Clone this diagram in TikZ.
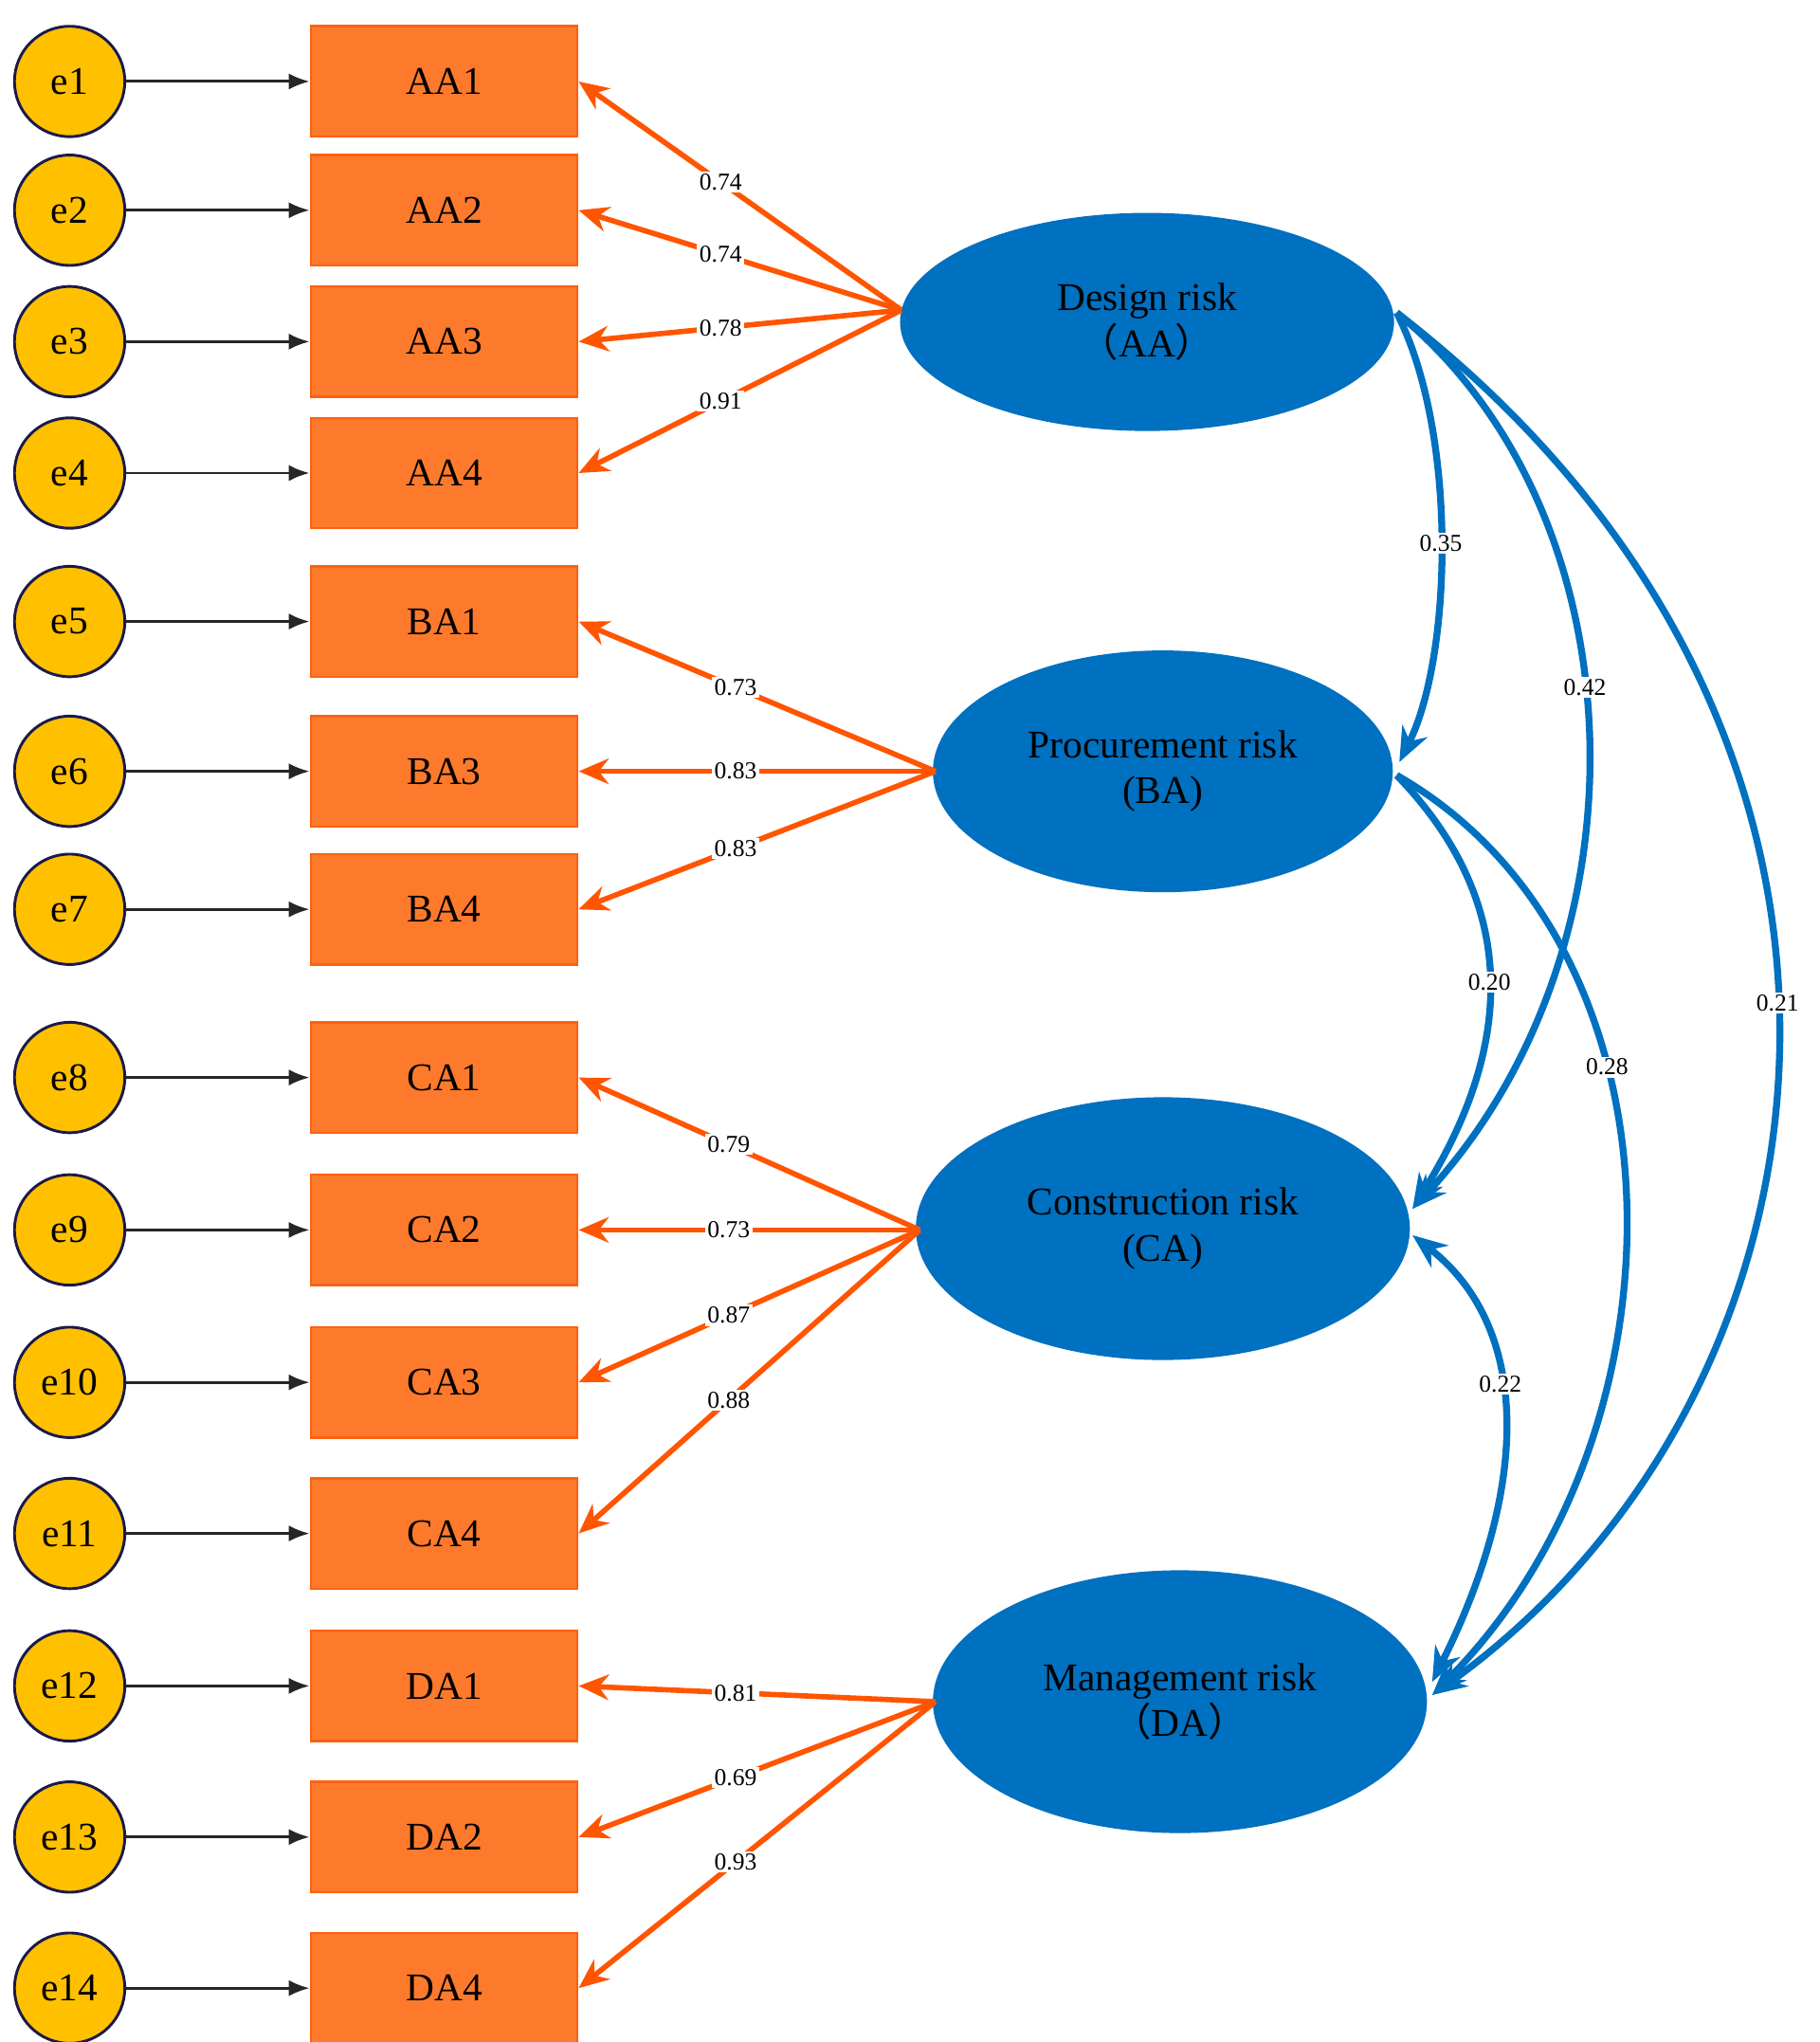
\documentclass[tikz,border=0pt]{standalone}
\usepackage{fontspec}
\setmainfont{Liberation Serif}
\newfontfamily\cjk{Noto Sans CJK SC}
\usetikzlibrary{arrows.meta,shapes.geometric}
\definecolor{eyel}{HTML}{FFC000}
\definecolor{enav}{HTML}{1A1A4A}
\definecolor{boxf}{HTML}{FD7A2C}
\definecolor{boxd}{HTML}{FF6010}
\definecolor{arro}{HTML}{FF5500}
\definecolor{blu}{HTML}{0070C0}
\begin{document}
\begin{tikzpicture}[x=0.02cm,y=-0.02cm,
  err/.style={circle,draw=enav,fill=eyel,line width=1.2pt,minimum size=84*0.02cm,inner sep=0pt,font=\fontsize{17}{17}\selectfont},
  ind/.style={rectangle,draw=boxd,fill=boxf,line width=1pt,minimum width=203*0.02cm,minimum height=84*0.02cm,font=\fontsize{17}{17}\selectfont},
  lat/.style={ellipse,fill=blu,inner sep=0pt,font=\fontsize{17}{20}\selectfont,align=center},
  earr/.style={-{Latex[length=9pt,width=7pt]},line width=1.2pt,black!85},
  load/.style={-{Stealth[length=13pt,width=11pt]},line width=2.3pt,arro},
  cov/.style={-{Stealth[length=15pt,width=12pt]},line width=3pt,blu},
  lab/.style={fill=white,inner sep=1pt,font=\fontsize{10.5}{11}\selectfont,text=black}]
\useasboundingbox (0,0) rectangle (1385,1554);
% latent
\node[lat,minimum width=376*0.02cm,minimum height=166*0.02cm] (AA) at (873,245) {Design risk\\{\cjk （}AA{\cjk ）}};
\node[lat,minimum width=350*0.02cm,minimum height=184*0.02cm] (BA) at (885,587) {Procurement risk\\(BA)};
\node[lat,minimum width=376*0.02cm,minimum height=200*0.02cm] (CA) at (885,935) {Construction risk\\(CA)};
\node[lat,minimum width=376*0.02cm,minimum height=200*0.02cm] (DA) at (898,1295) {Management risk\\{\cjk （}DA{\cjk ）}};
\coordinate (AAl) at (686,236);
\coordinate (BAl) at (712,587);
\coordinate (CAl) at (700,936);
\coordinate (DAl) at (712,1295);
% indicators
\foreach \n/\t/\y/\l/\s in {1/AA1/62/0.74/AAl,2/AA2/160/0.74/AAl,3/AA3/260/0.78/AAl,4/AA4/360/0.91/AAl,
  5/BA1/473/0.73/BAl,6/BA3/587/0.83/BAl,7/BA4/692/0.83/BAl,
  8/CA1/820/0.79/CAl,9/CA2/936/0.73/CAl,10/CA3/1052/0.87/CAl,11/CA4/1167/0.88/CAl,
  12/DA1/1283/0.81/DAl,13/DA2/1398/0.69/DAl,14/DA4/1513/0.93/DAl}{
  \node[err] (e\n) at (53,\y) {e\n};
  \node[ind] (b\n) at (338,\y) {\t};
  \draw[earr] (e\n) -- (b\n);
  \draw[load] (\s) -- node[lab,pos=0.56]{\l} (b\n.east);
}
% covariances
\coordinate (AAr) at (1063,238);
\coordinate (BAr) at (1063,590);
\draw[cov] (AAr) .. controls (1110,330) and (1105,500) .. (1065,580) node[lab,pos=0.5]{0.35};
\draw[cov] (AAr) .. controls (1250,390) and (1260,720) .. (1075,920) node[lab,pos=0.45]{0.42};
\draw[cov] (AAr) .. controls (1480,560) and (1410,1060) .. (1090,1290) node[lab,pos=0.47]{0.21};
\draw[cov] (BAr) .. controls (1160,690) and (1150,800) .. (1075,920) node[lab,pos=0.5]{0.20};
\draw[cov] (BAr) .. controls (1290,720) and (1290,1090) .. (1090,1290) node[lab,pos=0.37]{0.28};
\draw[cov,{Stealth[length=15pt,width=12pt]}-{Stealth[length=15pt,width=12pt]}] (1075,940) .. controls (1165,1010) and (1165,1130) .. (1090,1280) node[lab,pos=0.42]{0.22};
\end{tikzpicture}
\end{document}
